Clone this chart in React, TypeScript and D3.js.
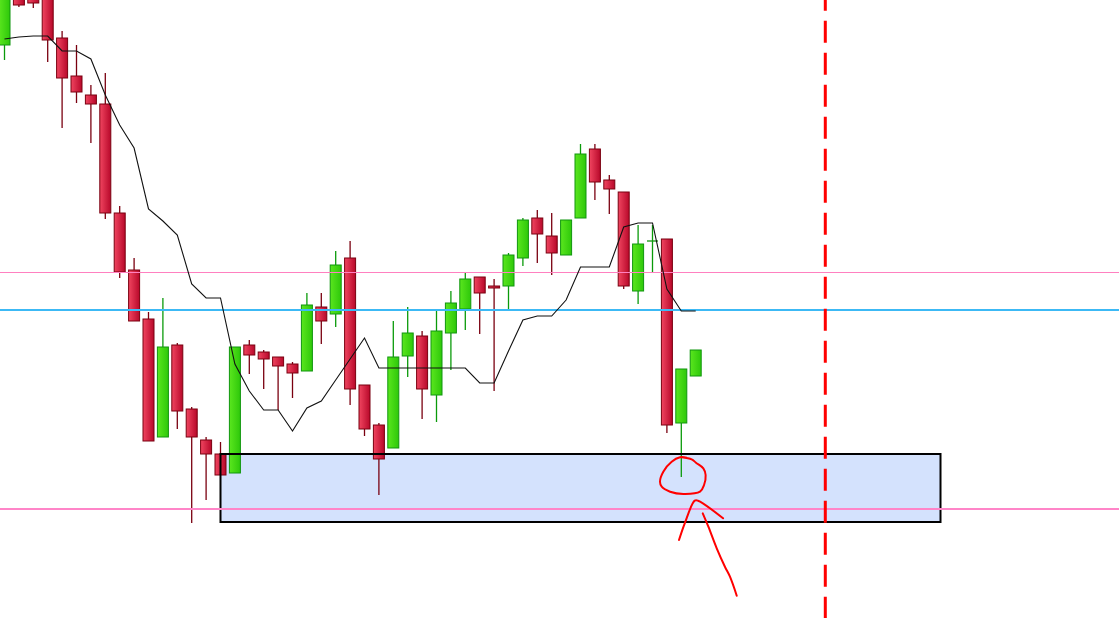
import React from 'react';
import * as d3 from 'd3';

const WIDTH = 1119;
const HEIGHT = 627;

// Candles, oldest first (prices)
const OPEN = [
  1.1955, 1.2008, 1.2006, 1.2004, 1.1962, 1.1924, 1.1905, 1.1896, 1.1787, 1.1730,
  1.1681, 1.1563, 1.1655, 1.1591, 1.1560, 1.1546, 1.1527, 1.1655, 1.1648, 1.1643,
  1.1636, 1.1629, 1.1693, 1.1686, 1.1742, 1.1615, 1.1575, 1.1552, 1.1644, 1.1664,
  1.1605, 1.1667, 1.1691, 1.1723, 1.1714, 1.1714, 1.1742, 1.1782, 1.1764, 1.1745,
  1.1782, 1.1851, 1.1820, 1.1808, 1.1709, 1.1759, 1.1761, 1.1577, 1.1624,
];
const HIGH = [
  1.2030, 1.2012, 1.2010, 1.2008, 1.1969, 1.1955, 1.1915, 1.1927, 1.1794, 1.1742,
  1.1688, 1.1702, 1.1657, 1.1593, 1.1563, 1.1558, 1.1653, 1.1660, 1.1650, 1.1643,
  1.1638, 1.1707, 1.1707, 1.1749, 1.1759, 1.1615, 1.1577, 1.1679, 1.1693, 1.1669,
  1.1689, 1.1709, 1.1727, 1.1723, 1.1721, 1.1747, 1.1782, 1.1790, 1.1787, 1.1780,
  1.1856, 1.1856, 1.1825, 1.1808, 1.1775, 1.1775, 1.1761, 1.1631, 1.1650,
];
const LOW = [
  1.1940, 1.1993, 1.1992, 1.1938, 1.1872, 1.1897, 1.1857, 1.1781, 1.1722, 1.1679,
  1.1559, 1.1563, 1.1571, 1.1477, 1.1500, 1.1525, 1.1527, 1.1626, 1.1611, 1.1590,
  1.1602, 1.1629, 1.1656, 1.1673, 1.1595, 1.1564, 1.1505, 1.1552, 1.1623, 1.1581,
  1.1578, 1.1630, 1.1670, 1.1666, 1.1609, 1.1691, 1.1734, 1.1737, 1.1725, 1.1745,
  1.1782, 1.1800, 1.1786, 1.1711, 1.1696, 1.1728, 1.1567, 1.1523, 1.1624,
];
const CLOSE = [
  1.2020, 1.1995, 1.1997, 1.1960, 1.1922, 1.1908, 1.1896, 1.1787, 1.1728, 1.1679,
  1.1559, 1.1653, 1.1589, 1.1563, 1.1546, 1.1525, 1.1653, 1.1645, 1.1641, 1.1634,
  1.1627, 1.1695, 1.1679, 1.1735, 1.1611, 1.1571, 1.1541, 1.1643, 1.1667, 1.1611,
  1.1669, 1.1697, 1.1721, 1.1707, 1.1712, 1.1745, 1.1780, 1.1766, 1.1747, 1.1780,
  1.1846, 1.1818, 1.1811, 1.1714, 1.1756, 1.1759, 1.1575, 1.1631, 1.1650,
];

// Moving average (one value per candle)
const MA = [
  1.1961, 1.1963, 1.1964, 1.1964, 1.1949, 1.1949, 1.1941, 1.1905, 1.1875, 1.1852,
  1.1791, 1.1779, 1.1765, 1.1716, 1.1702, 1.1702, 1.1636, 1.1609, 1.1590, 1.1590,
  1.1569, 1.1592, 1.1599, 1.1620, 1.1641, 1.1662, 1.1632, 1.1632, 1.1632, 1.1632,
  1.1632, 1.1632, 1.1632, 1.1617, 1.1617, 1.1649, 1.1680, 1.1684, 1.1684, 1.1700,
  1.1733, 1.1733, 1.1733, 1.1773, 1.1777, 1.1777, 1.1711, 1.1689, 1.1689,
];

// Horizontal levels
const LEVEL_UPPER_PINK = 1.17275;
const LEVEL_BLUE = 1.169;
const LEVEL_LOWER_PINK = 1.1491;

// Demand zone (bar index from/to, price top/bottom)
const ZONE = { from: 15, to: 65, top: 1.1546, bottom: 1.1478 };
// vertical dashed marker (bar index)
const MARKER_BAR = 57;

// hand-drawn annotation, [bar index, price]
const CIRCLE_PTS: [number, number][] = [
  [47.03, 1.15427], [47.72, 1.15407], [48.02, 1.15373], [48.53, 1.15317], [48.69, 1.1525],
  [48.58, 1.1515], [48.3, 1.15083], [47.14, 1.1506], [46.22, 1.15083], [45.64, 1.15133],
  [45.52, 1.15183], [45.75, 1.15283], [46.33, 1.15383], [46.91, 1.15427], [47.38, 1.15423],
];
const ARROW_HEAD: [number, number][] = [
  [46.84, 1.146], [47.24, 1.14767], [47.93, 1.14993], [48.16, 1.14993], [49.9, 1.14817],
];
const ARROW_SHAFT: [number, number][] = [
  [48.49, 1.14867], [48.88, 1.14733], [49.46, 1.14517], [50.03, 1.14333], [50.38, 1.14233], [50.85, 1.14043],
];

export default function App() {
  const x = d3.scaleLinear().domain([0, 48]).range([4.5, 695.7]);
  const y = d3.scaleLinear().domain([1.1373, 1.2]).range([HEIGHT, 0]);
  const bodyW = 11;

  const maLine = d3.line<number>()
    .x((_, i) => x(i))
    .y((d) => y(d));

  const freehand = d3.line<[number, number]>()
    .x((d) => x(d[0]))
    .y((d) => y(d[1]))
    .curve(d3.curveCatmullRom.alpha(0.5));

  const candles = OPEN.map((o, i) => ({
    i,
    o,
    h: HIGH[i],
    l: LOW[i],
    c: CLOSE[i],
    up: CLOSE[i] >= o,
  }));

  return (
    <svg
      width={WIDTH}
      height={HEIGHT}
      style={{ position: 'absolute', left: 0, top: 0, background: '#fff', display: 'block' }}
    >
      <defs>
        <linearGradient id="redBody" x1="0" x2="1" y1="0" y2="0">
          <stop offset="0%" stopColor="#f04560" />
          <stop offset="100%" stopColor="#b8082a" />
        </linearGradient>
        <linearGradient id="greenBody" x1="0" x2="1" y1="0" y2="0">
          <stop offset="0%" stopColor="#5ae61e" />
          <stop offset="100%" stopColor="#2ec80a" />
        </linearGradient>
      </defs>

      {/* zone fill sits behind candles */}
      <rect
        x={x(ZONE.from)}
        y={y(ZONE.top)}
        width={x(ZONE.to) - x(ZONE.from)}
        height={y(ZONE.bottom) - y(ZONE.top)}
        fill="#d4e2fd"
      />

      {candles.map((d) => {
        const cx = x(d.i);
        const top = y(Math.max(d.o, d.c));
        const bot = y(Math.min(d.o, d.c));
        const wickColor = d.up ? '#0a9a0a' : '#7a0010';
        const edge = d.up ? '#10960e' : '#7a0010';
        return (
          <g key={d.i}>
            <line x1={cx} x2={cx} y1={y(d.h)} y2={y(d.l)} stroke={wickColor} strokeWidth={1.3} />
            {bot - top < 1 ? (
              <line x1={cx - bodyW / 2} x2={cx + bodyW / 2} y1={top} y2={top} stroke={edge} strokeWidth={1.3} />
            ) : (
              <rect
                x={cx - bodyW / 2}
                y={top}
                width={bodyW}
                height={bot - top}
                fill={d.up ? 'url(#greenBody)' : 'url(#redBody)'}
                stroke={edge}
                strokeWidth={1}
              />
            )}
          </g>
        );
      })}

      {/* zone border on top */}
      <rect
        x={x(ZONE.from)}
        y={y(ZONE.top)}
        width={x(ZONE.to) - x(ZONE.from)}
        height={y(ZONE.bottom) - y(ZONE.top)}
        fill="none"
        stroke="#000"
        strokeWidth={2}
      />

      <line x1={0} x2={WIDTH} y1={y(LEVEL_UPPER_PINK)} y2={y(LEVEL_UPPER_PINK)} stroke="#ff80c0" strokeWidth={1.2} />
      <line x1={0} x2={WIDTH} y1={y(LEVEL_BLUE)} y2={y(LEVEL_BLUE)} stroke="#3cb9f5" strokeWidth={2} />
      <line x1={0} x2={WIDTH} y1={y(LEVEL_LOWER_PINK)} y2={y(LEVEL_LOWER_PINK)} stroke="#ff85c8" strokeWidth={2} />

      <path d={maLine(MA) || ''} fill="none" stroke="#111" strokeWidth={1.1} />

      <line
        x1={x(MARKER_BAR)}
        x2={x(MARKER_BAR)}
        y1={0}
        y2={618}
        stroke="#ff0000"
        strokeWidth={3}
        strokeDasharray="22,10"
        strokeDashoffset={11.3}
      />

      <g fill="none" stroke="#ff0000" strokeWidth={2} strokeLinecap="round" strokeLinejoin="round">
        <path d={freehand(CIRCLE_PTS) || ''} />
        <path d={freehand(ARROW_HEAD) || ''} />
        <path d={freehand(ARROW_SHAFT) || ''} />
      </g>
    </svg>
  );
}
